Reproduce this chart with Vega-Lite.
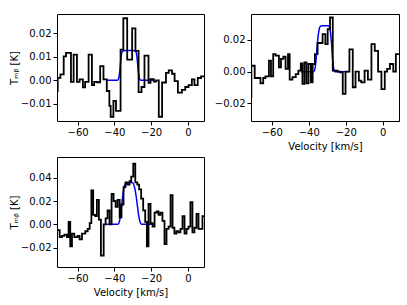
{
  "$schema": "https://vega.github.io/schema/vega-lite/v6.json",
  "padding": {"left": 8, "top": 13, "right": 5, "bottom": 5},
  "background": "white",
  "config": {
    "font": "DejaVu Sans",
    "view": {"stroke": "black", "strokeWidth": 1},
    "axis": {"grid": false, "domain": false, "tickColor": "black", "tickSize": 4, "tickWidth": 1, "labelFontSize": 10, "labelColor": "black", "labelPadding": 2, "titleFontSize": 10, "titleFontWeight": "normal", "titleColor": "black", "titlePadding": 4, "labelFont": "DejaVu Sans", "titleFont": "DejaVu Sans"},
    "axisY": {"titlePadding": 1},
    "text": {"font": "DejaVu Sans", "fontSize": 10}
  },
  "datasets": {
    "cs43": [
      {"v": -72.06, "T": -0.0045}, {"v": -70.8, "T": 0.0011}, {"v": -69.35, "T": 0.0025}, {"v": -67.55, "T": 0.0102},
      {"v": -66.3, "T": 0.0116}, {"v": -63.6, "T": -0.0006}, {"v": -62.15, "T": 0.0109}, {"v": -60.35, "T": -0.0006},
      {"v": -58.9, "T": 0.0004}, {"v": -57.1, "T": -0.003}, {"v": -55.9, "T": -0.0006}, {"v": -54.0, "T": 0.0109},
      {"v": -52.2, "T": -0.002}, {"v": -51.0, "T": -0.0006}, {"v": -49.3, "T": -0.0008}, {"v": -47.7, "T": 0.006},
      {"v": -45.9, "T": 0.0004}, {"v": -44.1, "T": -0.0045}, {"v": -42.7, "T": -0.0108}, {"v": -42.0, "T": -0.0154},
      {"v": -40.5, "T": -0.0087}, {"v": -39.1, "T": -0.0129}, {"v": -36.6, "T": 0.013}, {"v": -35.1, "T": 0.0263},
      {"v": -33.0, "T": 0.0088}, {"v": -30.3, "T": 0.022}, {"v": -28.5, "T": 0.0125}, {"v": -26.8, "T": -0.005},
      {"v": -25.2, "T": -0.0028}, {"v": -23.6, "T": 0.0105}, {"v": -21.4, "T": -0.001}, {"v": -20.3, "T": 0.0005},
      {"v": -18.5, "T": -0.0005}, {"v": -17.3, "T": 0.0}, {"v": -15.8, "T": -0.0154}, {"v": -14.0, "T": -0.0009},
      {"v": -11.9, "T": 0.0032}, {"v": -10.4, "T": 0.0042}, {"v": -8.6, "T": 0.0028}, {"v": -7.2, "T": -0.0003},
      {"v": -5.4, "T": -0.0052}, {"v": -3.2, "T": -0.004}, {"v": -1.4, "T": -0.0028}, {"v": 0.4, "T": -0.002},
      {"v": 2.2, "T": 0.0004}, {"v": 3.6, "T": -0.002}, {"v": 5.4, "T": 0.001}, {"v": 7.2, "T": 0.0017}, {"v": 9.5, "T": 0.0017}
    ],
    "fit43": [
      {"v": -44, "T": 0}, {"v": -38.2, "T": 0}, {"v": -37.6, "T": 0.001}, {"v": -37, "T": 0.004}, {"v": -36.5, "T": 0.0085},
      {"v": -36, "T": 0.0115}, {"v": -35.5, "T": 0.0124}, {"v": -34.5, "T": 0.0127}, {"v": -29.5, "T": 0.0127},
      {"v": -28.5, "T": 0.0124}, {"v": -28, "T": 0.0115}, {"v": -27.5, "T": 0.0085}, {"v": -27, "T": 0.004},
      {"v": -26.4, "T": 0.001}, {"v": -25.8, "T": 0}, {"v": -19, "T": 0}
    ],
    "cs65": [
      {"v": -71.5, "T": -0.016}, {"v": -71.0, "T": 0.0037}, {"v": -69.2, "T": -0.004}, {"v": -66.1, "T": -0.0073},
      {"v": -64.6, "T": -0.004}, {"v": -63.4, "T": -0.003}, {"v": -61.5, "T": 0.0069}, {"v": -60.4, "T": -0.003},
      {"v": -59.2, "T": 0.011}, {"v": -57.9, "T": 0.010}, {"v": -56.1, "T": 0.0027}, {"v": -55.0, "T": 0.008},
      {"v": -53.7, "T": 0.0094}, {"v": -52.5, "T": 0.0017}, {"v": -51.2, "T": 0.011}, {"v": -50.3, "T": -0.005},
      {"v": -48.8, "T": -0.0035}, {"v": -47.0, "T": -0.0015}, {"v": -45.6, "T": 0.0006}, {"v": -44.3, "T": 0.0052},
      {"v": -43.4, "T": -0.0077}, {"v": -42.3, "T": 0.0058}, {"v": -41.2, "T": -0.0073}, {"v": -40.1, "T": 0.0048},
      {"v": -38.8, "T": -0.0067}, {"v": -37.9, "T": 0.0048}, {"v": -36.65, "T": 0.011}, {"v": -35.2, "T": 0.018},
      {"v": -32.5, "T": 0.0235}, {"v": -31.0, "T": 0.0173}, {"v": -29.75, "T": 0.0267}, {"v": -28.5, "T": 0.034},
      {"v": -27.0, "T": 0.0006}, {"v": -24.3, "T": 0.0}, {"v": -23.0, "T": -0.0005}, {"v": -21.6, "T": -0.014},
      {"v": -20.1, "T": 0.0}, {"v": -18.0, "T": 0.014}, {"v": -16.2, "T": -0.0098}, {"v": -14.7, "T": 0.0},
      {"v": -12.9, "T": -0.0056}, {"v": -11.6, "T": -0.0067}, {"v": -9.8, "T": 0.0006}, {"v": -8.0, "T": -0.005},
      {"v": -6.1, "T": 0.0173}, {"v": -4.3, "T": 0.013}, {"v": -2.5, "T": 0.0}, {"v": -0.7, "T": -0.011},
      {"v": 1.1, "T": 0.0}, {"v": 2.4, "T": 0.0017}, {"v": 3.9, "T": 0.0048}, {"v": 5.7, "T": 0.0},
      {"v": 7.1, "T": 0.011}, {"v": 9.5, "T": 0.011}
    ],
    "fit65": [
      {"v": -44.3, "T": 0}, {"v": -37.3, "T": 0}, {"v": -36.6, "T": 0.002}, {"v": -36, "T": 0.008}, {"v": -35.3, "T": 0.018},
      {"v": -34.6, "T": 0.025}, {"v": -34, "T": 0.028}, {"v": -33, "T": 0.0288}, {"v": -29.5, "T": 0.0288},
      {"v": -28.8, "T": 0.028}, {"v": -28.3, "T": 0.025}, {"v": -27.7, "T": 0.018}, {"v": -27.1, "T": 0.008},
      {"v": -26.5, "T": 0.002}, {"v": -26, "T": 0}, {"v": -18.8, "T": 0}
    ],
    "cs76": [
      {"v": -71.2, "T": -0.005}, {"v": -69.75, "T": -0.011}, {"v": -68.5, "T": -0.010}, {"v": -67.2, "T": -0.009},
      {"v": -65.8, "T": -0.011}, {"v": -64.9, "T": 0.002}, {"v": -64.0, "T": -0.019}, {"v": -63.05, "T": -0.008},
      {"v": -61.8, "T": -0.011}, {"v": -60.0, "T": -0.010}, {"v": -58.9, "T": -0.013}, {"v": -57.6, "T": -0.008},
      {"v": -55.8, "T": -0.006}, {"v": -54.5, "T": -0.004}, {"v": -53.4, "T": 0.001}, {"v": -52.5, "T": 0.029},
      {"v": -51.5, "T": 0.008}, {"v": -50.4, "T": 0.007}, {"v": -49.5, "T": 0.021}, {"v": -48.4, "T": 0.004},
      {"v": -47.3, "T": -0.027}, {"v": -45.8, "T": 0.0}, {"v": -44.75, "T": 0.005}, {"v": -43.7, "T": 0.012},
      {"v": -42.6, "T": 0.0}, {"v": -41.5, "T": 0.026}, {"v": -40.4, "T": 0.020}, {"v": -39.3, "T": 0.015},
      {"v": -38.2, "T": 0.021}, {"v": -37.1, "T": 0.006}, {"v": -36.1, "T": 0.017}, {"v": -35.0, "T": 0.032},
      {"v": -33.9, "T": 0.036}, {"v": -32.8, "T": 0.034}, {"v": -31.7, "T": 0.037}, {"v": -30.8, "T": 0.041},
      {"v": -29.7, "T": 0.052}, {"v": -28.6, "T": 0.036}, {"v": -27.5, "T": 0.034}, {"v": -26.5, "T": 0.030},
      {"v": -25.4, "T": 0.022}, {"v": -24.3, "T": 0.012}, {"v": -23.2, "T": 0.002}, {"v": -22.3, "T": -0.019},
      {"v": -21.4, "T": 0.0175}, {"v": -20.3, "T": 0.001}, {"v": -19.2, "T": -0.002}, {"v": -18.1, "T": 0.010},
      {"v": -17.0, "T": 0.011}, {"v": -15.95, "T": 0.008}, {"v": -14.9, "T": 0.010}, {"v": -13.8, "T": 0.003},
      {"v": -12.7, "T": -0.017}, {"v": -11.6, "T": -0.004}, {"v": -10.5, "T": -0.002}, {"v": -9.4, "T": 0.025},
      {"v": -8.3, "T": -0.003}, {"v": -7.3, "T": -0.008}, {"v": -6.2, "T": -0.006}, {"v": -5.1, "T": -0.007},
      {"v": -4.0, "T": -0.004}, {"v": -2.9, "T": 0.007}, {"v": -1.8, "T": -0.008}, {"v": -0.7, "T": -0.004},
      {"v": 0.35, "T": -0.002}, {"v": 1.4, "T": 0.019}, {"v": 2.5, "T": -0.007}, {"v": 3.6, "T": -0.003},
      {"v": 4.7, "T": 0.009}, {"v": 5.8, "T": -0.004}, {"v": 6.9, "T": -0.004}, {"v": 7.96, "T": 0.007}, {"v": 9.5, "T": 0.007}
    ],
    "fit76": [
      {"v": -44.5, "T": 0}, {"v": -38, "T": 0}, {"v": -37.3, "T": 0.002}, {"v": -36.6, "T": 0.008}, {"v": -35.9, "T": 0.018},
      {"v": -35.2, "T": 0.027}, {"v": -34.5, "T": 0.033}, {"v": -33.6, "T": 0.0355}, {"v": -31, "T": 0.036},
      {"v": -30, "T": 0.0355}, {"v": -29.2, "T": 0.033}, {"v": -28.4, "T": 0.027}, {"v": -27.6, "T": 0.018},
      {"v": -26.8, "T": 0.008}, {"v": -26, "T": 0.002}, {"v": -25.2, "T": 0}, {"v": -18.5, "T": 0}
    ]
  },
  "vconcat": [
    {
      "hconcat": [
        {
          "width": 147, "height": 107,
          "encoding": {
            "x": {"field": "v", "type": "quantitative", "scale": {"domain": [-71.2, 8.8], "nice": false, "zero": false}, "axis": {"values": [-60, -40, -20, 0], "title": null}},
            "y": {"field": "T", "type": "quantitative", "scale": {"domain": [-0.0172, 0.0281], "nice": false, "zero": false}, "axis": {"values": [-0.01, 0, 0.01, 0.02], "format": ".2f", "title": "Tₘᵦ [K]"}}
          },
          "layer": [
            {"data": {"name": "fit43"}, "mark": {"type": "line", "color": "#0000ff", "strokeWidth": 1.5, "interpolate": "monotone", "clip": true}},
            {"data": {"name": "cs43"}, "mark": {"type": "line", "color": "black", "strokeWidth": 1.8, "interpolate": "step-after", "clip": true}},
            {"data": {"values": [{}]}, "mark": {"type": "text", "text": ["CS", "(4-3)"], "align": "left", "baseline": "top", "dx": 5, "dy": 3, "lineHeight": 11, "color": "black"}, "encoding": {"x": {"datum": -71.2}, "y": {"datum": 0.0281}}},
            {"data": {"values": [{}]}, "mark": {"type": "text", "text": ["U Hya", "APEX"], "align": "right", "baseline": "top", "dx": -6, "dy": 3, "lineHeight": 11, "color": "black"}, "encoding": {"x": {"datum": 8.8}, "y": {"datum": 0.0281}}}
          ]
        },
        {
          "width": 148, "height": 107,
          "encoding": {
            "x": {"field": "v", "type": "quantitative", "scale": {"domain": [-71.2, 8.8], "nice": false, "zero": false}, "axis": {"values": [-60, -40, -20, 0], "title": "Velocity [km/s]"}},
            "y": {"field": "T", "type": "quantitative", "scale": {"domain": [-0.031, 0.0362], "nice": false, "zero": false}, "axis": {"values": [-0.02, 0, 0.02], "format": ".2f", "title": null}}
          },
          "layer": [
            {"data": {"name": "fit65"}, "mark": {"type": "line", "color": "#0000ff", "strokeWidth": 1.5, "interpolate": "monotone", "clip": true}},
            {"data": {"name": "cs65"}, "mark": {"type": "line", "color": "black", "strokeWidth": 1.8, "interpolate": "step-after", "clip": true}},
            {"data": {"values": [{}]}, "mark": {"type": "text", "text": ["CS", "(6-5)"], "align": "left", "baseline": "top", "dx": 5, "dy": 3, "lineHeight": 11, "color": "black"}, "encoding": {"x": {"datum": -71.2}, "y": {"datum": 0.0362}}},
            {"data": {"values": [{}]}, "mark": {"type": "text", "text": ["U Hya", "APEX"], "align": "right", "baseline": "top", "dx": -6, "dy": 3, "lineHeight": 11, "color": "black"}, "encoding": {"x": {"datum": 8.8}, "y": {"datum": 0.0362}}}
          ]
        }
      ],
      "spacing": 8
    },
    {
      "width": 147, "height": 110,
      "encoding": {
        "x": {"field": "v", "type": "quantitative", "scale": {"domain": [-71.2, 8.8], "nice": false, "zero": false}, "axis": {"values": [-60, -40, -20, 0], "title": "Velocity [km/s]"}},
        "y": {"field": "T", "type": "quantitative", "scale": {"domain": [-0.0367, 0.0578], "nice": false, "zero": false}, "axis": {"values": [-0.02, 0, 0.02, 0.04], "format": ".2f", "title": "Tₘᵦ [K]"}}
      },
      "layer": [
        {"data": {"name": "fit76"}, "mark": {"type": "line", "color": "#0000ff", "strokeWidth": 1.5, "interpolate": "monotone", "clip": true}},
        {"data": {"name": "cs76"}, "mark": {"type": "line", "color": "black", "strokeWidth": 1.8, "interpolate": "step-after", "clip": true}},
        {"data": {"values": [{}]}, "mark": {"type": "text", "text": ["CS", "(7-6)"], "align": "left", "baseline": "top", "dx": 5, "dy": 3, "lineHeight": 11, "color": "black"}, "encoding": {"x": {"datum": -71.2}, "y": {"datum": 0.0578}}},
        {"data": {"values": [{}]}, "mark": {"type": "text", "text": ["U Hya", "APEX"], "align": "right", "baseline": "top", "dx": -6, "dy": 3, "lineHeight": 11, "color": "black"}, "encoding": {"x": {"datum": 8.8}, "y": {"datum": 0.0578}}}
      ]
    }
  ],
  "spacing": 4
}
